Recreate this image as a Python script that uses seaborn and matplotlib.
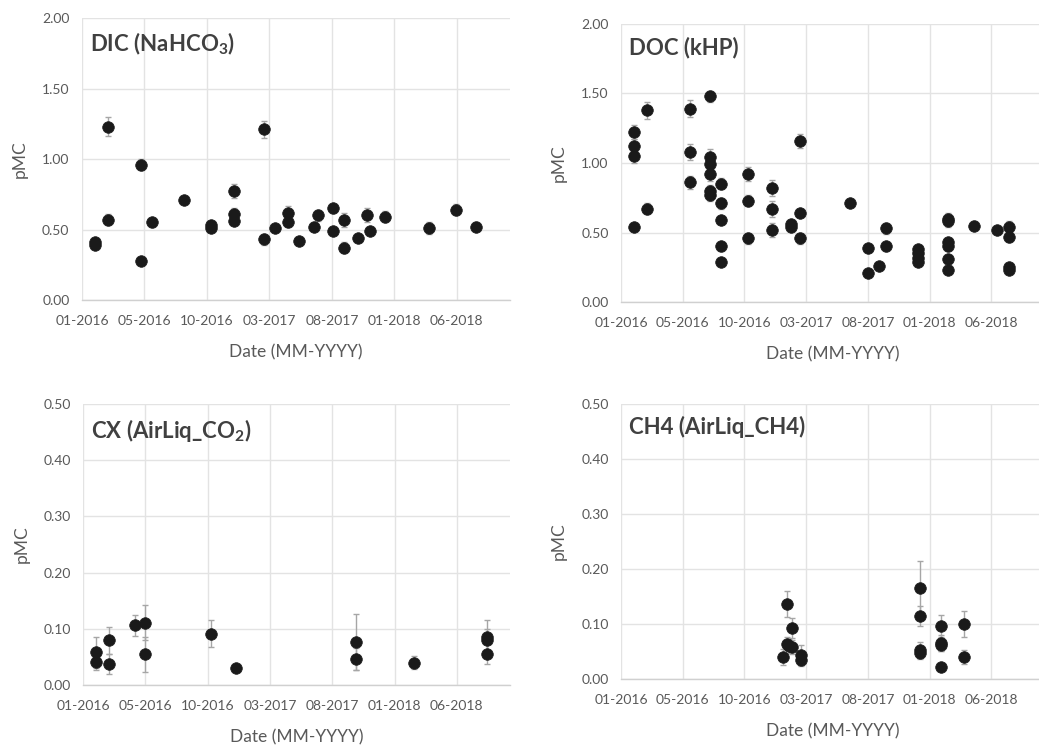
import numpy as np
import pandas as pd
import matplotlib
matplotlib.use("Agg")
import matplotlib.pyplot as plt
import seaborn as sns

# ---- data (x = days since 01-01-2016) ----
dic_day = [32, 32, 62, 62, 142, 142, 168, 244, 310, 310, 366, 366, 366, 436, 436, 464, 494, 494,
           520, 556, 568, 602, 602, 630, 630, 664, 684, 692, 728, 834, 898, 946]
dic_val = [0.41, 0.39, 1.23, 0.57, 0.96, 0.28, 0.55, 0.71, 0.53, 0.51, 0.77, 0.61, 0.56, 1.21, 0.43,
           0.51, 0.62, 0.55, 0.42, 0.52, 0.60, 0.65, 0.49, 0.57, 0.37, 0.44, 0.60, 0.49, 0.59, 0.51,
           0.64, 0.52]
dic_err = [0.03, 0.03, 0.07, 0.04, 0.04, 0.02, 0.03, 0.03, 0.03, 0.03, 0.05, 0.04, 0.03, 0.06, 0.04,
           0.03, 0.05, 0.03, 0.03, 0.03, 0.04, 0.03, 0.03, 0.05, 0.04, 0.03, 0.05, 0.03, 0.04, 0.04,
           0.04, 0.03]

doc_day = [32, 32, 32, 32, 62, 62, 168, 168, 168, 217, 217, 217, 217, 217, 217,
           243, 243, 243, 243, 243, 309, 309, 309, 368, 368, 368, 413, 413, 434, 434, 434,
           556, 600, 600, 628, 644, 644, 723, 723, 723, 723, 794, 794, 794, 794, 794, 794,
           859, 915, 944, 944, 944, 944]
doc_val = [1.22, 1.12, 1.05, 0.54, 1.38, 0.67, 1.39, 1.08, 0.86, 1.48, 1.04, 0.99, 0.92, 0.80, 0.77,
           0.85, 0.71, 0.59, 0.40, 0.29, 0.92, 0.73, 0.46, 0.82, 0.67, 0.52, 0.56, 0.54, 1.16, 0.64, 0.46,
           0.71, 0.39, 0.21, 0.26, 0.53, 0.40, 0.38, 0.35, 0.32, 0.29, 0.60, 0.58, 0.43, 0.40, 0.31, 0.23,
           0.55, 0.52, 0.54, 0.47, 0.25, 0.23]
doc_err = [0.05, 0.05, 0.05, 0.03, 0.06, 0.04, 0.06, 0.06, 0.05, 0.04, 0.06, 0.05, 0.05, 0.04, 0.04,
           0.04, 0.04, 0.03, 0.03, 0.02, 0.05, 0.04, 0.04, 0.06, 0.06, 0.05, 0.03, 0.03, 0.05, 0.03, 0.04,
           0.03, 0.03, 0.02, 0.02, 0.04, 0.03, 0.02, 0.02, 0.02, 0.02, 0.04, 0.04, 0.03, 0.03, 0.02, 0.02,
           0.03, 0.03, 0.04, 0.04, 0.02, 0.02]

cx_day = [31, 31, 63, 63, 124, 150, 150, 309, 369, 657, 657, 796, 972, 972, 972]
cx_val = [0.058, 0.041, 0.080, 0.038, 0.106, 0.111, 0.055, 0.091, 0.031, 0.076, 0.046, 0.040,
          0.086, 0.080, 0.055]
cx_err = [0.027, 0.015, 0.024, 0.018, 0.019, 0.031, 0.031, 0.024, 0.004, 0.050, 0.020, 0.012,
          0.030, 0.020, 0.018]

ch4_day = [394, 403, 403, 409, 416, 416, 437, 437, 728, 728, 728, 728, 779, 779, 779, 779, 834, 834]
ch4_val = [0.040, 0.136, 0.064, 0.060, 0.093, 0.058, 0.044, 0.034, 0.165, 0.115, 0.053, 0.048,
           0.096, 0.065, 0.062, 0.021, 0.100, 0.040]
ch4_err = [0.015, 0.024, 0.012, 0.012, 0.018, 0.012, 0.018, 0.010, 0.050, 0.018, 0.015, 0.012,
           0.020, 0.015, 0.012, 0.004, 0.023, 0.012]

tick_days = [0, 150, 300, 450, 600, 750, 900]
tick_labels = ["01-2016", "05-2016", "10-2016", "03-2017", "08-2017", "01-2018", "06-2018"]

titles = ["DIC (NaHCO$_\\mathbf{3}$)", "DOC (kHP)", "CX (AirLiq_CO$_\\mathbf{2}$)", "CH4 (AirLiq_CH4)"]

# ---- style ----
sns.set_theme(style="white")
plt.rcParams['font.family'] = ['Lato', 'DejaVu Sans']
plt.rcParams['mathtext.fontset'] = 'custom'
plt.rcParams['mathtext.rm'] = 'Lato'
plt.rcParams['mathtext.bf'] = 'Lato:bold'

TXT = "#595959"
GRID = "#e3e3e3"

fig = plt.figure(figsize=(10.39, 7.45), dpi=100)
positions = [
    [0.0789, 0.5973, 0.4120, 0.3785],
    [0.5977, 0.5946, 0.4070, 0.3732],
    [0.0799, 0.0805, 0.4110, 0.3772],
    [0.5977, 0.0886, 0.4070, 0.3691],
]
datasets = [(dic_day, dic_val, dic_err, 2.0, 0.5),
            (doc_day, doc_val, doc_err, 2.0, 0.5),
            (cx_day, cx_val, cx_err, 0.5, 0.1),
            (ch4_day, ch4_val, ch4_err, 0.5, 0.1)]

for pos, (d, v, e, ymax, ystep), title in zip(positions, datasets, titles):
    ax = fig.add_axes(pos)
    df = pd.DataFrame({"day": d, "val": v, "err": e})
    ax.errorbar(df["day"], df["val"], yerr=df["err"], fmt="none", ecolor="#a6a6a6",
                elinewidth=1.0, capsize=2.5, capthick=1.0, zorder=2)
    sns.scatterplot(data=df, x="day", y="val", ax=ax, color="#1a1a1a", s=70,
                    edgecolor="#1a1a1a", linewidth=0.5, zorder=3, legend=False)
    ax.set_xlim(0, 1028)
    ax.set_ylim(0, ymax)
    ax.set_xticks(tick_days)
    ax.set_xticklabels(tick_labels)
    yt = np.round(np.arange(0, ymax + ystep / 2, ystep), 2)
    ax.set_yticks(yt)
    ax.set_yticklabels([f"{t:.2f}" for t in yt])
    ax.tick_params(axis="both", length=0, labelsize=10, colors=TXT)
    ax.tick_params(axis="x", pad=11)
    ax.tick_params(axis="y", pad=9)
    ax.grid(True, color=GRID, linewidth=1.0)
    ax.set_axisbelow(True)
    for s in ["top", "right", "left"]:
        ax.spines[s].set_visible(False)
    ax.spines["bottom"].set_color("#d0d0d0")
    ax.spines["bottom"].set_linewidth(1.0)
    ax.set_xlabel("Date (MM-YYYY)", fontsize=12.5, color=TXT, labelpad=12)
    ax.set_ylabel("pMC", fontsize=12.5, color=TXT, labelpad=10)
    ax.text(0.018, 0.955, title, transform=ax.transAxes, fontsize=16, fontweight="bold",
            color="#404040", va="top", ha="left")

fig.savefig("out.png", dpi=100)
